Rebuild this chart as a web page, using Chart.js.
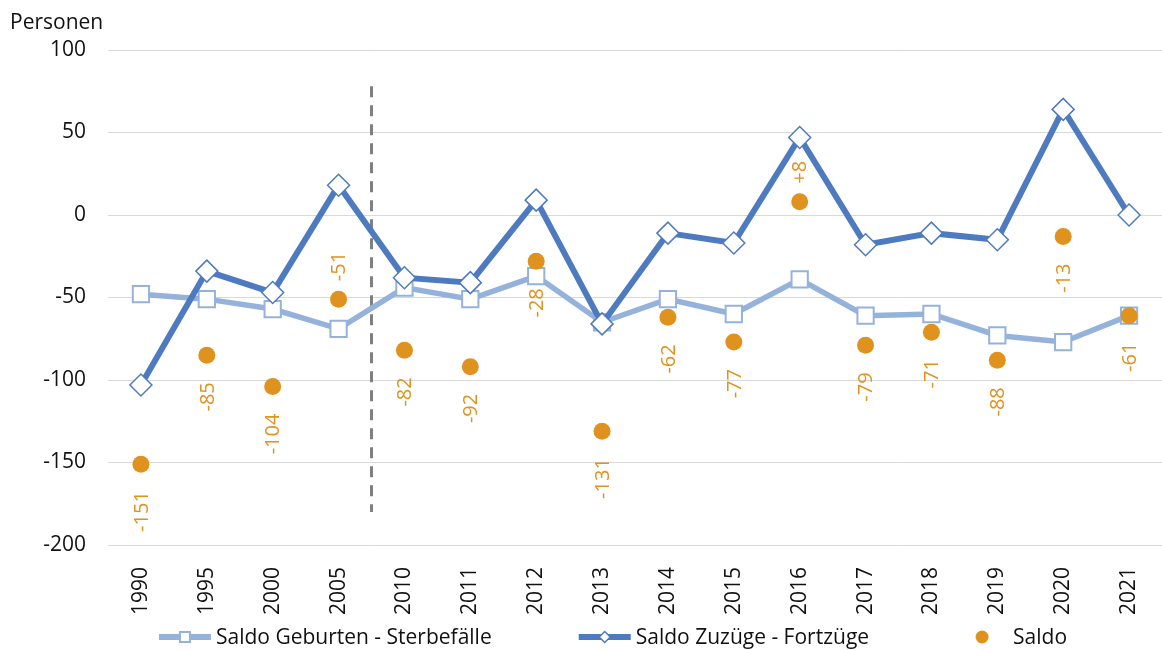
<!DOCTYPE html>
<html>
<head>
<meta charset="utf-8">
<script src="https://cdn.jsdelivr.net/npm/chart.js@4.4.1/dist/chart.umd.min.js"></script>
<style>
  html, body { margin: 0; padding: 0; background: #ffffff; }
  #wrap { width: 1162px; height: 650px; }
</style>
</head>
<body>
<div id="wrap"><canvas id="c" width="1162" height="650"></canvas></div>
<script>
// ---- data ----
const years = ['1990','1995','2000','2005','2010','2011','2012','2013','2014','2015','2016','2017','2018','2019','2020','2021'];
const geburten = [-48, -51, -57, -69, -44, -51, -37, -65, -51, -60, -39, -61, -60, -73, -77, -61];
const zuzuege  = [-103, -34, -47, 18, -38, -41, 9, -66, -11, -17, 47, -18, -11, -15, 64, 0];
const saldo    = [-151, -85, -104, -51, -82, -92, -28, -131, -62, -77, 8, -79, -71, -88, -13, -61];
const yTicks = [-200, -150, -100, -50, 0, 50, 100];
const seriesNames = ['Saldo Geburten - Sterbefälle', 'Saldo Zuzüge - Fortzüge', 'Saldo'];
const axisTitle = 'Personen';
const labelsAbove = ['2005', '2016'];

// ---- styles ----
const LIGHT = '#95B2DB';
const DARK = '#4E7BC0';
const ORANGE = '#E0921E';
const TXT = '#111111';
const FONT = '"Open Sans", "Liberation Sans", sans-serif';

const extras = {
  id: 'extras',
  beforeDatasetsDraw(chart) {
    const { ctx, scales: { x, y } } = chart;
    const xp = (x.getPixelForValue(3) + x.getPixelForValue(4)) / 2;
    ctx.save();
    ctx.strokeStyle = '#808080';
    ctx.lineWidth = 3;
    ctx.setLineDash([11, 8]);
    ctx.beginPath();
    ctx.moveTo(xp, y.getPixelForValue(78));
    ctx.lineTo(xp, y.getPixelForValue(-180));
    ctx.stroke();
    ctx.restore();
  },
  afterDatasetsDraw(chart) {
    const { ctx } = chart;
    const meta = chart.getDatasetMeta(2);
    ctx.save();
    ctx.font = '20px ' + FONT;
    ctx.fillStyle = ORANGE;
    ctx.textBaseline = 'middle';
    meta.data.forEach((pt, i) => {
      const v = saldo[i];
      const txt = (v > 0 ? '+' : '') + v;
      ctx.save();
      ctx.translate(pt.x, pt.y);
      ctx.rotate(-Math.PI / 2);
      if (labelsAbove.includes(years[i])) {
        ctx.textAlign = 'left';
        ctx.fillText(txt, 18, 1);
      } else {
        ctx.textAlign = 'right';
        ctx.fillText(txt, -27, 1);
      }
      ctx.restore();
    });
    ctx.restore();
  },
  afterDraw(chart) {
    const { ctx } = chart;
    ctx.save();
    ctx.font = '21px ' + FONT;
    ctx.fillStyle = TXT;
    ctx.textAlign = 'left';
    ctx.textBaseline = 'alphabetic';
    ctx.fillText(axisTitle, 10, 29);

    // legend
    const sampleW = 52, textGap = 5, itemGap = 87;
    const widths = seriesNames.map(n => ctx.measureText(n).width);
    const total = widths.reduce((a, b) => a + b, 0) + seriesNames.length * (sampleW + textGap) + (seriesNames.length - 1) * itemGap;
    let sx = 613 - total / 2;
    const cy = 637;
    seriesNames.forEach((name, i) => {
      const cx = sx + sampleW / 2;
      if (i === 0 || i === 1) {
        ctx.strokeStyle = i === 0 ? LIGHT : DARK;
        ctx.lineWidth = 6;
        ctx.beginPath();
        ctx.moveTo(sx, cy);
        ctx.lineTo(sx + sampleW, cy);
        ctx.stroke();
      }
      if (i === 0) {
        ctx.fillStyle = '#fff';
        ctx.strokeStyle = LIGHT;
        ctx.lineWidth = 2;
        ctx.fillRect(cx - 5, cy - 5, 10, 10);
        ctx.strokeRect(cx - 5, cy - 5, 10, 10);
      } else if (i === 1) {
        ctx.fillStyle = '#fff';
        ctx.strokeStyle = DARK;
        ctx.lineWidth = 1.5;
        ctx.beginPath();
        ctx.moveTo(cx - 5.5, cy); ctx.lineTo(cx, cy - 5.5); ctx.lineTo(cx + 5.5, cy); ctx.lineTo(cx, cy + 5.5); ctx.closePath();
        ctx.fill(); ctx.stroke();
      } else {
        ctx.fillStyle = ORANGE;
        ctx.beginPath();
        ctx.arc(cx, cy, 6.5, 0, Math.PI * 2);
        ctx.fill();
      }
      ctx.fillStyle = TXT;
      ctx.textBaseline = 'middle';
      ctx.fillText(name, sx + sampleW + textGap, cy + 1);
      sx += sampleW + textGap + widths[i] + itemGap;
    });
    ctx.restore();
  }
};

new Chart(document.getElementById('c'), {
  type: 'line',
  data: {
    labels: years,
    datasets: [
      {
        label: seriesNames[0], data: geburten, order: 3,
        borderColor: LIGHT, borderWidth: 5.5, tension: 0,
        pointStyle: 'rect', pointRadius: 11.5, pointBackgroundColor: '#ffffff',
        pointBorderColor: LIGHT, pointBorderWidth: 2
      },
      {
        label: seriesNames[1], data: zuzuege, order: 2,
        borderColor: DARK, borderWidth: 6, tension: 0,
        pointStyle: 'rectRot', pointRadius: 11, pointBackgroundColor: '#ffffff',
        pointBorderColor: DARK, pointBorderWidth: 1.5
      },
      {
        label: seriesNames[2], data: saldo, order: 1,
        showLine: false, borderColor: ORANGE, backgroundColor: ORANGE,
        pointStyle: 'circle', pointRadius: 8.5, pointBackgroundColor: ORANGE,
        pointBorderWidth: 0
      }
    ]
  },
  options: {
    responsive: false,
    animation: false,
    layout: { autoPadding: false, padding: { top: 50, right: 0, left: 0, bottom: 0 } },
    plugins: { legend: { display: false }, tooltip: { enabled: false }, title: { display: false } },
    scales: {
      x: {
        offset: true,
        grid: { display: false },
        border: { display: false },
        ticks: { autoSkip: false, minRotation: 90, maxRotation: 90, padding: 14, color: TXT, font: { family: FONT, size: 21 } },
        afterFit: s => { s.height = 105; s.paddingRight = 0; s.paddingLeft = 0; }
      },
      y: {
        min: yTicks[0], max: yTicks[yTicks.length - 1],
        afterBuildTicks: s => { s.ticks = yTicks.map(v => ({ value: v })); },
        grid: { color: '#d9d9d9', lineWidth: 1, drawTicks: false },
        border: { display: false },
        ticks: { padding: 22, color: TXT, font: { family: FONT, size: 21 } },
        afterFit: s => { s.width = 108; }
      }
    }
  },
  plugins: [extras]
});
</script>
</body>
</html>
